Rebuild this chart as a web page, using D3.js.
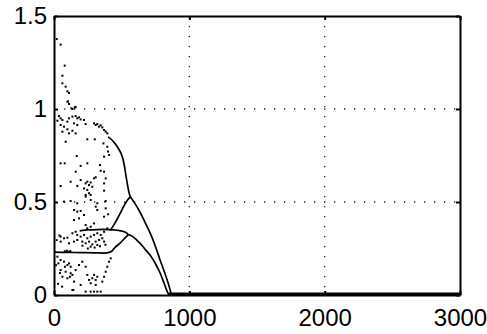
<!DOCTYPE html>
<html>
<head>
<meta charset="utf-8">
<script src="https://cdn.jsdelivr.net/npm/d3@7"></script>
<style>
body{margin:0;background:#fff;}
svg{display:block;}
.axis text{font-family:"Liberation Sans",Arial,sans-serif;font-size:24px;fill:#000;}
.axis path,.axis line{stroke:#000;stroke-width:2;fill:none;}
.grid line{stroke:#222;stroke-width:1.3;stroke-dasharray:1.3,8.7;}
.branch{fill:none;stroke:#000;stroke-width:1.7;}
</style>
</head>
<body>
<script>
var xTicks=[0,1000,2000,3000];
var yTicks=[0,0.5,1,1.5];
var xGrid=[1000,2000];
var yGrid=[0.5,1];

// solid branches of the diagram (x, y)
var upperArc=[[400,0.85],[430,0.832],[455,0.81],[478,0.785],[496,0.76],[510,0.73],[521,0.69],[530,0.65],[540,0.605],[550,0.565],[558,0.54],[565,0.527]];
var cuspRise=[[415,0.347],[445,0.38],[475,0.42],[500,0.455],[525,0.49],[545,0.512],[565,0.527]];
var outerDrop=[[565,0.527],[600,0.49],[636,0.445],[670,0.395],[709,0.335],[745,0.27],[783,0.19],[815,0.125],[845,0.06],[868,0]];
var midFlat=[[190,0.345],[250,0.35],[320,0.352],[400,0.352],[470,0.348],[520,0.34],[550,0.325]];
var innerDrop=[[550,0.325],[580,0.315],[610,0.296],[640,0.275],[680,0.24],[715,0.21],[750,0.168],[780,0.125],[810,0.07],[830,0.03],[848,0]];
var lowerFlat=[[0,0.23],[100,0.229],[200,0.228],[300,0.227],[390,0.226],[420,0.232],[450,0.255],[490,0.28],[520,0.303],[550,0.325]];
var zeroLine=[[848,0],[1500,0],[3000,0]];

// scattered (chaotic) points (x, y)
var dots=[
[20,1.376],[49,1.346],[79,1.233],[62,1.179],[62,1.138],[86,1.12],[99,1.095],[111,1.086],[103,1.041],[111,1.027],[136,1.0],[160,1.01],
[99,1.039],[128,1.004],[153,1.009],[37,0.962],[49,0.95],[62,0.941],[99,0.932],[111,0.95],[136,0.959],[160,0.962],[172,0.95],[185,0.955],[197,0.944],
[148,0.923],[172,0.914],[222,0.941],[234,0.919],[25,0.937],[49,0.914],[74,0.905],[99,0.891],[111,0.869],[136,0.883],[160,0.869],[62,0.878],
[296,0.923],[308,0.914],[320,0.919],[333,0.905],[345,0.912],[357,0.901],[370,0.887],[382,0.878],[394,0.869],
[86,0.824],[246,0.837],[301,0.837],[365,0.815],[394,0.797],[399,0.771],[407,0.753],[370,0.744],
[49,0.708],[79,0.708],[168,0.747],[197,0.694],[246,0.708],[340,0.699],[370,0.663],[345,0.668],[160,0.663],
[123,0.609],[197,0.618],[234,0.6],[246,0.609],[259,0.591],[271,0.605],[283,0.582],[296,0.627],[308,0.633],
[222,0.573],[246,0.565],[259,0.547],[234,0.538],[271,0.538],[49,0.586],[172,0.586],[370,0.6],[370,0.561],[382,0.627],
[74,0.502],[123,0.505],[172,0.493],[234,0.529],[271,0.511],[320,0.493],[382,0.505],
[308,0.475],[320,0.457],[382,0.466],[148,0.457],[172,0.448],[197,0.452],[185,0.412],[148,0.403],[222,0.43],
[234,0.376],[246,0.358],[271,0.367],[296,0.385],[370,0.421],[400,0.434],
[49,0.314],[74,0.305],[99,0.308],[136,0.332],[160,0.34],[172,0.323],[197,0.314],[222,0.323],[246,0.305],[271,0.314],
[296,0.323],[320,0.332],[345,0.323],[370,0.34],[394,0.358],[20,0.295],[40,0.32],
[49,0.287],[111,0.278],[148,0.287],[172,0.296],[209,0.287],[234,0.278],[259,0.287],[283,0.272],[308,0.287],[333,0.296],
[357,0.305],[370,0.287],[271,0.26],[320,0.269],[210,0.265],[250,0.25],[300,0.255],[340,0.262],[380,0.27],
[80,0.235],[95,0.238],[110,0.232],[120,0.236],
[25,0.206],[49,0.188],[74,0.179],[99,0.161],[111,0.17],[123,0.152],[49,0.134],[86,0.125],[123,0.117],[136,0.108],
[62,0.098],[99,0.09],[160,0.134],[185,0.161],[209,0.179],[234,0.152],[246,0.108],[259,0.081],[283,0.09],[296,0.108],
[308,0.081],[320,0.098],[271,0.063],[308,0.054],[382,0.125],[394,0.152],[407,0.179],[419,0.197],[370,0.098],[357,0.072],
[234,0.018],[271,0.018],[296,0.018],[320,0.018],[345,0.018],[136,0.027],[148,0.072],[197,0.054],
[32,0.17],[44,0.118],[81,0.152],[118,0.098],[143,0.027],[15,0.16],[30,0.06],[60,0.045]
];

var margin={top:16,left:54},width=406,height=279;

var svg=d3.select("body").append("svg")
          .attr("width",487)
          .attr("height",334);

var x=d3.scaleLinear().domain([0,3000]).range([margin.left,margin.left+width]);
var y=d3.scaleLinear().domain([0,1.5]).range([margin.top+height,margin.top]);

// dotted grid
var grid=svg.append("g").attr("class","grid");
grid.selectAll(".gx")
    .data(xGrid)
    .enter().append("line")
    .attr("class","gx")
    .attr("x1",function(d){ return x(d); })
    .attr("x2",function(d){ return x(d); })
    .attr("y1",y(1.5))
    .attr("y2",y(0));
grid.selectAll(".gy")
    .data(yGrid)
    .enter().append("line")
    .attr("class","gy")
    .attr("x1",x(0))
    .attr("x2",x(3000))
    .attr("y1",function(d){ return y(d); })
    .attr("y2",function(d){ return y(d); });

// points
svg.append("g")
   .selectAll("rect")
   .data(dots)
   .enter().append("rect")
   .attr("x",function(d){ return x(d[0])-1; })
   .attr("y",function(d){ return y(d[1])-1; })
   .attr("width",2)
   .attr("height",2)
   .attr("fill","#000");

var line=d3.line()
           .x(function(d){ return x(d[0]); })
           .y(function(d){ return y(d[1]); })
           .curve(d3.curveCatmullRom.alpha(0.5));

svg.selectAll(".branch")
   .data([upperArc,cuspRise,outerDrop,midFlat,innerDrop,lowerFlat])
   .enter().append("path")
   .attr("class","branch")
   .attr("d",line);

svg.append("path")
   .datum(zeroLine)
   .attr("class","branch")
   .style("stroke-width",3)
   .attr("transform","translate(0,-1)")
   .attr("d",line);

// axes box with inward ticks
svg.append("g")
   .attr("class","axis")
   .attr("transform","translate(0,"+y(0)+")")
   .call(d3.axisBottom(x).tickValues(xTicks).tickSizeInner(-4).tickSizeOuter(0).tickPadding(14).tickFormat(d3.format("d")));

svg.append("g")
   .attr("class","axis")
   .attr("transform","translate("+x(0)+",0)")
   .call(d3.axisLeft(y).tickValues(yTicks).tickSizeInner(-4).tickSizeOuter(0).tickPadding(7).tickFormat(function(d){ return String(d); }));

svg.append("g")
   .attr("class","axis")
   .attr("transform","translate(0,"+y(1.5)+")")
   .call(d3.axisTop(x).tickValues(xTicks).tickSizeInner(-4).tickSizeOuter(0).tickFormat(""));

svg.append("g")
   .attr("class","axis")
   .attr("transform","translate("+x(3000)+",0)")
   .call(d3.axisRight(y).tickValues(yTicks).tickSizeInner(-4).tickSizeOuter(0).tickFormat(""));

svg.selectAll(".axis text").attr("font-family",null).attr("font-size",null);
</script>
</body>
</html>
